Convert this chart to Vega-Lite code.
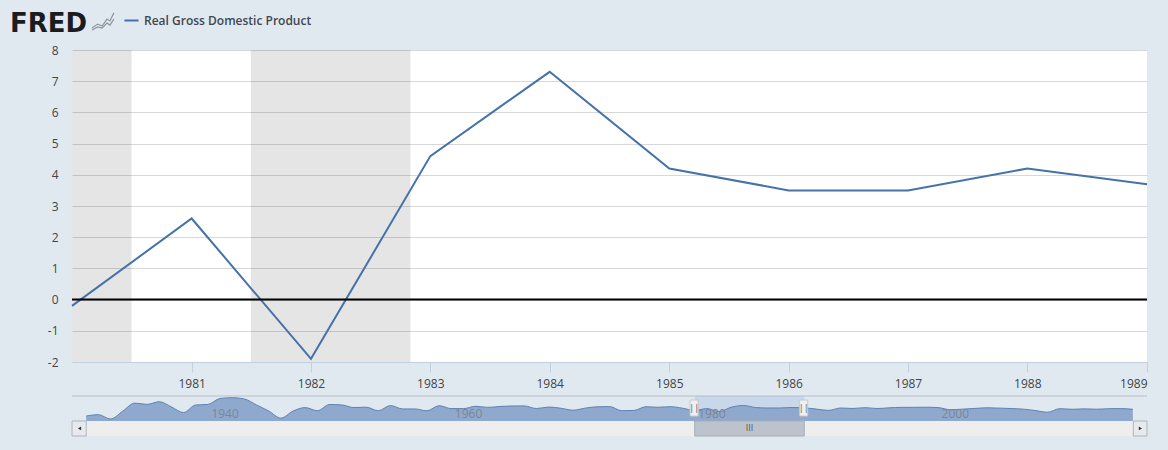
{"$schema":"https://vega.github.io/schema/vega-lite/v6.json","background":"#e1e9f0","padding":{"left":10,"top":10,"right":21,"bottom":14},"spacing":6,"config":{"font":"Open Sans","view":{"stroke":null}},"datasets":{"gdp":[{"date":"1980-01-01","value":-0.2,"series":"Real Gross Domestic Product"},{"date":"1981-01-01","value":2.6,"series":"Real Gross Domestic Product"},{"date":"1982-01-01","value":-1.9,"series":"Real Gross Domestic Product"},{"date":"1983-01-01","value":4.6,"series":"Real Gross Domestic Product"},{"date":"1984-01-01","value":7.3,"series":"Real Gross Domestic Product"},{"date":"1985-01-01","value":4.2,"series":"Real Gross Domestic Product"},{"date":"1986-01-01","value":3.5,"series":"Real Gross Domestic Product"},{"date":"1987-01-01","value":3.5,"series":"Real Gross Domestic Product"},{"date":"1988-01-01","value":4.2,"series":"Real Gross Domestic Product"},{"date":"1989-01-01","value":3.7,"series":"Real Gross Domestic Product"}],"recessions":[{"start":"1980-01-01","end":"1980-07-01","low":-2,"high":8},{"start":"1981-07-01","end":"1982-11-01","low":-2,"high":8}],"icon":[{"date":"1980-03-02","value":8.705,"s":"a"},{"date":"1980-03-20","value":8.83,"s":"a"},{"date":"1980-04-02","value":8.77,"s":"a"},{"date":"1980-04-17","value":8.99,"s":"a"},{"date":"1980-04-26","value":8.93,"s":"a"},{"date":"1980-05-08","value":9.19,"s":"a"},{"date":"1980-03-02","value":8.64,"s":"b"},{"date":"1980-03-20","value":8.74,"s":"b"},{"date":"1980-04-02","value":8.705,"s":"b"},{"date":"1980-04-17","value":8.865,"s":"b"},{"date":"1980-04-26","value":8.8,"s":"b"},{"date":"1980-05-08","value":8.99,"s":"b"}],"nav":[{"date":"1930-01-01","value":-8.5},{"date":"1931-01-01","value":-6.4},{"date":"1932-01-01","value":-12.9},{"date":"1933-01-01","value":-1.2},{"date":"1934-01-01","value":10.8},{"date":"1935-01-01","value":8.9},{"date":"1936-01-01","value":12.9},{"date":"1937-01-01","value":5.1},{"date":"1938-01-01","value":-3.3},{"date":"1939-01-01","value":8.0},{"date":"1940-01-01","value":8.8},{"date":"1941-01-01","value":17.7},{"date":"1942-01-01","value":18.9},{"date":"1943-01-01","value":17.0},{"date":"1944-01-01","value":8.0},{"date":"1945-01-01","value":-1.0},{"date":"1946-01-01","value":-11.6},{"date":"1947-01-01","value":-1.1},{"date":"1948-01-01","value":4.1},{"date":"1949-01-01","value":-0.6},{"date":"1950-01-01","value":8.7},{"date":"1951-01-01","value":8.1},{"date":"1952-01-01","value":4.1},{"date":"1953-01-01","value":4.7},{"date":"1954-01-01","value":-0.6},{"date":"1955-01-01","value":7.1},{"date":"1956-01-01","value":2.1},{"date":"1957-01-01","value":2.1},{"date":"1958-01-01","value":-0.7},{"date":"1959-01-01","value":6.9},{"date":"1960-01-01","value":2.6},{"date":"1961-01-01","value":2.6},{"date":"1962-01-01","value":6.1},{"date":"1963-01-01","value":4.4},{"date":"1964-01-01","value":5.8},{"date":"1965-01-01","value":6.5},{"date":"1966-01-01","value":6.6},{"date":"1967-01-01","value":2.7},{"date":"1968-01-01","value":4.9},{"date":"1969-01-01","value":3.1},{"date":"1970-01-01","value":0.2},{"date":"1971-01-01","value":3.3},{"date":"1972-01-01","value":5.3},{"date":"1973-01-01","value":5.6},{"date":"1974-01-01","value":-0.5},{"date":"1975-01-01","value":-0.2},{"date":"1976-01-01","value":5.4},{"date":"1977-01-01","value":4.6},{"date":"1978-01-01","value":5.5},{"date":"1979-01-01","value":3.2},{"date":"1980-01-01","value":-0.2},{"date":"1981-01-01","value":2.6},{"date":"1982-01-01","value":-1.9},{"date":"1983-01-01","value":4.6},{"date":"1984-01-01","value":7.3},{"date":"1985-01-01","value":4.2},{"date":"1986-01-01","value":3.5},{"date":"1987-01-01","value":3.5},{"date":"1988-01-01","value":4.2},{"date":"1989-01-01","value":3.7},{"date":"1990-01-01","value":1.9},{"date":"1991-01-01","value":-0.1},{"date":"1992-01-01","value":3.5},{"date":"1993-01-01","value":2.8},{"date":"1994-01-01","value":4.0},{"date":"1995-01-01","value":2.7},{"date":"1996-01-01","value":3.8},{"date":"1997-01-01","value":4.5},{"date":"1998-01-01","value":4.5},{"date":"1999-01-01","value":4.7},{"date":"2000-01-01","value":4.1},{"date":"2001-01-01","value":1.0},{"date":"2002-01-01","value":1.8},{"date":"2003-01-01","value":2.8},{"date":"2004-01-01","value":3.8},{"date":"2005-01-01","value":3.3},{"date":"2006-01-01","value":2.7},{"date":"2007-01-01","value":1.8},{"date":"2008-01-01","value":-0.3},{"date":"2009-01-01","value":-2.8},{"date":"2010-01-01","value":2.5},{"date":"2011-01-01","value":1.6},{"date":"2012-01-01","value":2.2},{"date":"2013-01-01","value":1.7},{"date":"2014-01-01","value":2.4},{"date":"2015-01-01","value":2.6},{"date":"2016-01-01","value":1.6}],"parts":[{"part":"track","start":"1930-01-01","end":"2016-01-15","low":-38.3,"high":-15.9},{"part":"button","start":"1928-11-01","end":"1930-01-01","low":-38.3,"high":-15.9},{"part":"button","start":"2016-01-15","end":"2017-03-01","low":-38.3,"high":-15.9},{"part":"thumb","start":"1980-01-01","end":"1989-01-01","low":-38.3,"high":-15.9},{"part":"window","start":"1980-01-01","end":"1989-01-01","low":-15.9,"high":21.4},{"part":"handle","start":"1979-08-15","end":"1980-04-15","low":-8.5,"high":15.4},{"part":"handle","start":"1988-08-15","end":"1989-04-15","low":-8.5,"high":15.4}],"glyphs":[{"date":"1984-07-01","value":-27,"glyph":"III"},{"date":"1979-12-15","value":3.5,"glyph":"||"},{"date":"1988-12-15","value":3.5,"glyph":"||"}],"arrows":[{"date":"1929-06-15","value":-27,"dir":"left"},{"date":"2016-08-15","value":-27,"dir":"right"}]},"vconcat":[{"width":1075,"height":312,"title":{"text":"FRED","anchor":"start","frame":"group","font":"DejaVu Sans","fontSize":26,"fontWeight":"bold","color":"#1c1c1f","dx":-62,"offset":-27},"view":{"fill":"#ffffff"},"encoding":{"y":{"type":"quantitative","scale":{"domain":[-2,8],"nice":false},"axis":{"title":null,"values":[-2,-1,0,1,2,3,4,5,6,7,8],"labelExpr":"''+datum.value","labelOverlap":false,"grid":true,"gridColor":"#d8d8d8","domain":false,"ticks":false,"labelColor":"#444444","labelFontSize":12,"labelPadding":14,"zindex":0}}},"layer":[{"data":{"name":"recessions"},"mark":{"type":"rect","color":"#000000","opacity":0.1},"encoding":{"x":{"field":"start","type":"temporal","scale":{"type":"utc","domain":["1980-01-01","1989-01-01"]},"axis":{"format":"%Y","values":["1981-01-01","1982-01-01","1983-01-01","1984-01-01","1985-01-01","1986-01-01","1987-01-01","1988-01-01","1989-01-01"],"title":null,"grid":false,"domainColor":"#c0d0e0","tickColor":"#c0d0e0","tickSize":10,"labelColor":"#444444","labelFontSize":12,"labelPadding":6,"labelFlush":false,"labelOverlap":false,"labelAlign":{"expr":"utcyear(datum.value)==1989?'right':'center'"}}},"x2":{"field":"end"},"y":{"field":"low"},"y2":{"field":"high"}}},{"data":{"name":"gdp"},"mark":{"type":"line","strokeWidth":2},"encoding":{"x":{"field":"date","type":"temporal"},"y":{"field":"value"},"color":{"field":"series","type":"nominal","scale":{"domain":["Real Gross Domestic Product"],"range":["#4572a7"]},"legend":{"title":null,"orient":"none","legendX":51,"legendY":-38,"symbolType":"stroke","symbolSize":200,"symbolStrokeWidth":2,"labelFont":"Open Sans","labelFontSize":12,"labelFontWeight":600,"labelColor":"#3e4650","labelLimit":300}}}},{"data":{"values":[{"z":0}]},"mark":{"type":"rule","color":"#000000","strokeWidth":2},"encoding":{"y":{"field":"z"}}},{"data":{"name":"icon"},"mark":{"type":"line","color":"#8f969c","strokeWidth":1.2},"encoding":{"x":{"field":"date","type":"temporal"},"y":{"field":"value"},"detail":{"field":"s"}}}]},{"width":1075,"height":40,"layer":[{"data":{"name":"parts"},"transform":[{"filter":"datum.part=='window'"}],"mark":{"type":"rect","color":"#c3d2ea","opacity":0.8},"encoding":{"x":{"field":"start","type":"temporal","scale":{"type":"utc","domain":["1928-11-01","2017-03-01"]},"axis":{"title":null,"grid":false,"domain":false,"ticks":false,"format":"%Y","values":["1940-01-01","1960-01-01","1980-01-01","2000-01-01"],"labelAlign":"left","labelOffset":3,"labelBaseline":"middle","labelPadding":-23,"labelColor":"#7d8690","labelFontSize":12,"labelBound":false,"labelFlush":false,"zindex":1}},"x2":{"field":"end"},"y":{"field":"low","type":"quantitative","scale":{"domain":[-38.3,21.4],"nice":false,"zero":false},"axis":null},"y2":{"field":"high"}}},{"data":{"name":"nav"},"mark":{"type":"area","interpolate":"monotone","color":"#8ea9cd","opacity":1,"line":{"color":"#5d82b3","strokeWidth":1}},"encoding":{"x":{"field":"date","type":"temporal"},"y":{"field":"value","type":"quantitative"},"y2":{"datum":-15.9}}},{"data":{"values":[{"top":21.4}]},"mark":{"type":"rule","color":"#b9bdc3","strokeWidth":1},"encoding":{"y":{"field":"top","type":"quantitative"}}},{"data":{"name":"parts"},"transform":[{"filter":"datum.part=='track'"}],"mark":{"type":"rect","color":"#eeeeee"},"encoding":{"x":{"field":"start","type":"temporal"},"x2":{"field":"end"},"y":{"field":"low","type":"quantitative"},"y2":{"field":"high"}}},{"data":{"name":"parts"},"transform":[{"filter":"datum.part=='thumb'"}],"mark":{"type":"rect","color":"#bcc3cd","stroke":"#a8aeb6"},"encoding":{"x":{"field":"start","type":"temporal"},"x2":{"field":"end"},"y":{"field":"low","type":"quantitative"},"y2":{"field":"high"}}},{"data":{"name":"parts"},"transform":[{"filter":"datum.part=='button'"}],"mark":{"type":"rect","color":"#e6e9ee","stroke":"#b0b4ba"},"encoding":{"x":{"field":"start","type":"temporal"},"x2":{"field":"end"},"y":{"field":"low","type":"quantitative"},"y2":{"field":"high"}}},{"data":{"name":"parts"},"transform":[{"filter":"datum.part=='handle'"}],"mark":{"type":"rect","color":"#f0f0f0","stroke":"#c4c8cc"},"encoding":{"x":{"field":"start","type":"temporal"},"x2":{"field":"end"},"y":{"field":"low","type":"quantitative"},"y2":{"field":"high"}}},{"data":{"name":"glyphs"},"mark":{"type":"text","font":"Open Sans","fontSize":9,"color":"#555555"},"encoding":{"x":{"field":"date","type":"temporal"},"y":{"field":"value","type":"quantitative"},"text":{"field":"glyph"}}},{"data":{"name":"arrows"},"transform":[{"filter":"datum.dir=='left'"}],"mark":{"type":"point","shape":"triangle-left","size":14,"filled":true,"color":"#333333","opacity":1},"encoding":{"x":{"field":"date","type":"temporal"},"y":{"field":"value","type":"quantitative"}}},{"data":{"name":"arrows"},"transform":[{"filter":"datum.dir=='right'"}],"mark":{"type":"point","shape":"triangle-right","size":14,"filled":true,"color":"#333333","opacity":1},"encoding":{"x":{"field":"date","type":"temporal"},"y":{"field":"value","type":"quantitative"}}}]}]}
